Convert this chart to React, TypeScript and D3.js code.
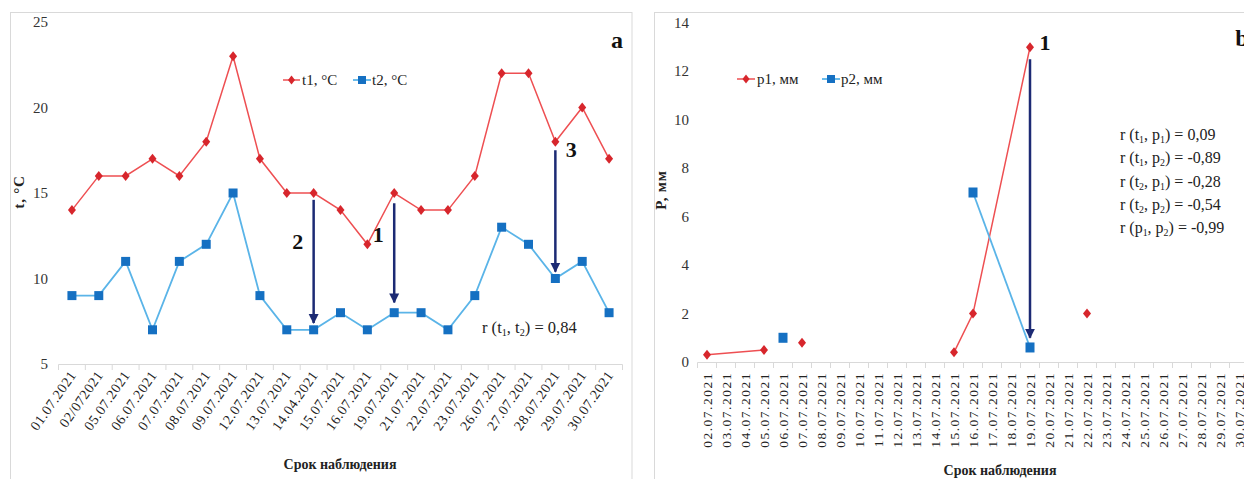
import React from 'react';
import * as d3 from 'd3';

// panel a: temperature
const datesA = ['01.07.2021', '02/072021', '05.07.2021', '06.07.2021', '07.07.2021', '08.07.2021', '09.07.2021',
  '12.07.2021', '13.07.2021', '14.04.2021', '15.07.2021', '16.07.2021', '19.07.2021', '21.07.2021',
  '22.07.2021', '23.07.2021', '26.07.2021', '27.07.2021', '28.07.2021', '29.07.2021', '30.07.2021'];
const t1 = [14, 16, 16, 17, 16, 18, 23, 17, 15, 15, 14, 12, 15, 14, 14, 16, 22, 22, 18, 20, 17];
const t2 = [9, 9, 11, 7, 11, 12, 15, 9, 7, 7, 8, 7, 8, 8, 7, 9, 13, 12, 10, 11, 8];
const ticksA = [5, 10, 15, 20, 25];
// arrows: category index, from / to value, label and label value
const arrowsA = [
  { idx: 9, from: 14.6, to: 7.4, label: '2', labelValue: 12.2, side: -1 },
  { idx: 12, from: 14.4, to: 8.6, label: '1', labelValue: 12.6, side: -1 },
  { idx: 18, from: 17.5, to: 10.4, label: '3', labelValue: 17.6, side: 1 },
];

// panel b: precipitation
const datesB = ['02.07.2021', '03.07.2021', '04.07.2021', '05.07.2021', '06.07.2021', '07.07.2021', '08.07.2021',
  '09.07.2021', '10.07.2021', '11.07.2021', '12.07.2021', '13.07.2021', '14.07.2021', '15.07.2021',
  '16.07.2021', '17.07.2021', '18.07.2021', '19.07.2021', '20.07.2021', '21.07.2021', '22.07.2021',
  '23.07.2021', '24.07.2021', '25.07.2021', '26.07.2021', '27.07.2021', '28.07.2021', '29.07.2021', '30.07.2021'];
const p1 = [
  { date: '02.07.2021', value: 0.3 }, { date: '05.07.2021', value: 0.5 }, { date: '07.07.2021', value: 0.8 },
  { date: '15.07.2021', value: 0.4 }, { date: '16.07.2021', value: 2 }, { date: '19.07.2021', value: 13 },
  { date: '22.07.2021', value: 2 },
];
const p2 = [
  { date: '06.07.2021', value: 1 }, { date: '16.07.2021', value: 7 }, { date: '19.07.2021', value: 0.6 },
];
const p1Links = [['02.07.2021', '05.07.2021'], ['15.07.2021', '16.07.2021', '19.07.2021']];
const p2Links = [['16.07.2021', '19.07.2021']];
const ticksB = [0, 2, 4, 6, 8, 10, 12, 14];
const arrowB = { date: '19.07.2021', from: 12.5, to: 1.0 };
const corrB = [
  ['t', '1', 'p', '1', '0,09'],
  ['t', '1', 'p', '2', '-0,89'],
  ['t', '2', 'p', '1', '-0,28'],
  ['t', '2', 'p', '2', '-0,54'],
  ['p', '1', 'p', '2', '-0,99'],
];

const RED_LINE = '#ee4f52';
const RED = '#d7262c';
const BLUE_LINE = '#5ab4e8';
const BLUE = '#1570c2';
const NAVY = '#1c2a74';
const GRID = '#d9d9d9';
const FONT = '"Liberation Serif", "DejaVu Serif", serif';

const diamond = (w: number, h: number) => `M0,${-h / 2}L${w / 2},0L0,${h / 2}L${-w / 2},0Z`;

const Corr = ({ x, y, c, size }: { x: number; y: number; c: string[]; size: number }) => (
  <text x={x} y={y} fontSize={size} fill="#222">
    r ({c[0]}<tspan fontSize={size * 0.62} dy={3}>{c[1]}</tspan><tspan dy={-3}>, {c[2]}</tspan>
    <tspan fontSize={size * 0.62} dy={3}>{c[3]}</tspan><tspan dy={-3}>) = {c[4]}</tspan>
  </text>
);

export default function App() {
  // ---------- panel a scales
  const xA = d3.scaleBand().domain(datesA).range([58.5, 622.5]);
  const yA = d3.scaleLinear().domain([5, 25]).range([364, 22]);
  const cxA = (i: number) => (xA(datesA[i]) as number) + xA.bandwidth() / 2;
  const lineA = d3.line<number>().x((_, i) => cxA(i)).y(d => yA(d));

  // ---------- panel b scales
  const xB = d3.scaleBand().domain(datesB).range([697.5, 697.5 + 19 * datesB.length]);
  const yB = d3.scaleLinear().domain([0, 14]).range([362, 23]);
  const cxB = (d: string) => (xB(d) as number) + xB.bandwidth() / 2;
  const lookup = (s: { date: string; value: number }[], d: string) => s.find(p => p.date === d)!.value;
  const lineB = d3.line<[number, number]>().x(d => d[0]).y(d => d[1]);

  return (
    <svg width={1244} height={479} style={{ position: 'absolute', left: 0, top: 0, background: '#fff' }}
      fontFamily={FONT}>
      <defs>
        <marker id="arr" viewBox="0 0 10 10" refX={9} refY={5} markerWidth={4} markerHeight={4.5} orient="auto">
          <path d="M0,0L10,5L0,10Z" fill={NAVY} />
        </marker>
      </defs>

      {/* panel frames */}
      <rect x={10.5} y={12.5} width={621.5} height={480} fill="none" stroke={GRID} />
      <rect x={654.5} y={12.5} width={620} height={480} fill="none" stroke={GRID} />

      {/* ================= panel a ================= */}
      <g>
        {ticksA.map(t => (
          <text key={t} x={48} y={yA(t) + 5} fontSize={15} textAnchor="end" fill="#333">{t}</text>
        ))}
        <line x1={58.5} x2={622.5} y1={364.5} y2={364.5} stroke={GRID} />
        {datesA.map(d => (
          <line key={d} x1={(xA(d) as number)} x2={(xA(d) as number)} y1={364.5} y2={370} stroke={GRID} />
        ))}
        <line x1={622.5} x2={622.5} y1={364.5} y2={370} stroke={GRID} />
        {datesA.map((d, i) => (
          <text key={d} transform={`translate(${cxA(i) + 5},${375}) rotate(-55)`} textAnchor="end"
            fontSize={14} letterSpacing={0.6} fill="#222">{d}</text>
        ))}
        <text transform="translate(24,192) rotate(-90)" textAnchor="middle" fontSize={15} fontWeight="bold"
          letterSpacing={0.8} fill="#222">t, °C</text>
        <text x={340} y={469} textAnchor="middle" fontSize={14} fontWeight="bold" fill="#222">Срок наблюдения</text>

        <path d={lineA(t1) as string} fill="none" stroke={RED_LINE} strokeWidth={1.5} />
        <path d={lineA(t2) as string} fill="none" stroke={BLUE_LINE} strokeWidth={1.8} />
        {t1.map((v, i) => (
          <path key={i} d={diamond(8, 10)} transform={`translate(${cxA(i)},${yA(v)})`} fill={RED} />
        ))}
        {t2.map((v, i) => (
          <rect key={i} x={cxA(i) - 4.5} y={yA(v) - 4.5} width={9} height={9} fill={BLUE} />
        ))}

        {arrowsA.map(a => (
          <g key={a.label}>
            <line x1={cxA(a.idx)} x2={cxA(a.idx)} y1={yA(a.from)} y2={yA(a.to)} stroke={NAVY} strokeWidth={2.5}
              markerEnd="url(#arr)" />
            <text x={cxA(a.idx) + a.side * 16} y={yA(a.labelValue) + 8} textAnchor="middle" fontSize={22}
              fontWeight="bold" fill="#111">{a.label}</text>
          </g>
        ))}

        {/* legend */}
        <line x1={283} x2={300} y1={80} y2={80} stroke={RED_LINE} strokeWidth={1.5} />
        <path d={diamond(7, 9)} transform="translate(291.5,80)" fill={RED} />
        <text x={302} y={85} fontSize={15} fill="#222">t1, °C</text>
        <line x1={353} x2={371} y1={80} y2={80} stroke={BLUE_LINE} strokeWidth={1.8} />
        <rect x={358} y={76} width={8} height={8} fill={BLUE} />
        <text x={372} y={85} fontSize={15} fill="#222">t2, °C</text>

        <Corr x={482} y={333} c={['t', '1', 't', '2', '0,84']} size={16.5} />
        <text x={617} y={48} textAnchor="middle" fontSize={24} fontWeight="bold" fill="#111">a</text>
      </g>

      {/* ================= panel b ================= */}
      <g>
        {ticksB.map(t => (
          <text key={t} x={689} y={yB(t) + 5} fontSize={15} textAnchor="end" fill="#333">{t}</text>
        ))}
        <line x1={697.5} x2={1250} y1={362.5} y2={362.5} stroke={GRID} />
        {datesB.map(d => (
          <line key={d} x1={(xB(d) as number)} x2={(xB(d) as number)} y1={362.5} y2={368} stroke={GRID} />
        ))}
        {datesB.map(d => (
          <text key={d} transform={`translate(${cxB(d) + 4.5},${372}) rotate(-90)`} textAnchor="end"
            fontSize={13.5} letterSpacing={1.5} fill="#222">{d}</text>
        ))}
        <text transform="translate(666,190) rotate(-90)" textAnchor="middle" fontSize={15} fontWeight="bold"
          letterSpacing={0.8} fill="#222">P, мм</text>
        <text x={1000} y={475} textAnchor="middle" fontSize={14} fontWeight="bold" fill="#222">Срок наблюдения</text>

        {p1Links.map((seg, k) => (
          <path key={k} d={lineB(seg.map(d => [cxB(d), yB(lookup(p1, d))] as [number, number])) as string}
            fill="none" stroke={RED_LINE} strokeWidth={1.5} />
        ))}
        {p2Links.map((seg, k) => (
          <path key={k} d={lineB(seg.map(d => [cxB(d), yB(lookup(p2, d))] as [number, number])) as string}
            fill="none" stroke={BLUE_LINE} strokeWidth={1.8} />
        ))}
        {p1.map(p => (
          <path key={p.date} d={diamond(8, 10)} transform={`translate(${cxB(p.date)},${yB(p.value)})`} fill={RED} />
        ))}
        {p2.map(p => (
          <rect key={p.date} x={cxB(p.date) - 4.5} y={yB(p.value) - 5} width={9} height={10} fill={BLUE} />
        ))}

        <line x1={cxB(arrowB.date)} x2={cxB(arrowB.date)} y1={yB(arrowB.from)} y2={yB(arrowB.to)} stroke={NAVY}
          strokeWidth={2.5} markerEnd="url(#arr)" />
        <text x={cxB(arrowB.date) + 15} y={50} textAnchor="middle" fontSize={22} fontWeight="bold" fill="#111">1</text>

        {/* legend */}
        <line x1={737} x2={755} y1={79} y2={79} stroke={RED_LINE} strokeWidth={1.5} />
        <path d={diamond(7, 9)} transform="translate(746,79)" fill={RED} />
        <text x={757} y={84} fontSize={15} fill="#222">p1, мм</text>
        <line x1={822} x2={840} y1={79} y2={79} stroke={BLUE_LINE} strokeWidth={1.8} />
        <rect x={827} y={75} width={8} height={8} fill={BLUE} />
        <text x={841} y={84} fontSize={15} fill="#222">p2, мм</text>

        {corrB.map((c, i) => (
          <Corr key={i} x={1120} y={140 + i * 23.3} c={c} size={16} />
        ))}
        <text x={1242} y={46} textAnchor="middle" fontSize={24} fontWeight="bold" fill="#111">b</text>
      </g>
    </svg>
  );
}
